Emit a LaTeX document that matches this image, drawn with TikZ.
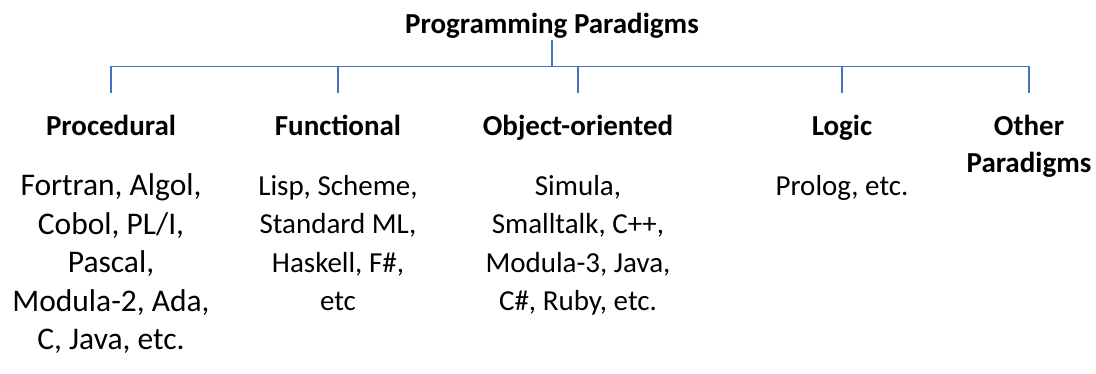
\documentclass[tikz,border=0pt]{standalone}
\usepackage{fontspec}
\setmainfont{Carlito}
\usepackage{tikz}
\usetikzlibrary{positioning}
\definecolor{branchblue}{HTML}{4472C4}
\tikzset{
    rootnode/.style={
        font=\bfseries\fontsize{29}{37}\selectfont,
        inner sep=0pt,
        text depth=6.5pt,
        anchor=base
    },
    paradigm/.style={
        font=\bfseries\fontsize{29}{37}\selectfont,
        align=center,
        inner xsep=0pt,
        inner ysep=20.2pt,
        text height=22pt,
        anchor=base
    },
    langs/.style={
        font=\fontsize{29}{38.5}\selectfont,
        align=center,
        inner sep=0pt,
        anchor=base
    },
    branch/.style={
        draw=branchblue,
        line width=1.2pt
    }
}

\begin{document}
\begin{tikzpicture}[x=1pt, y=-1pt]
    \useasboundingbox (0,0) rectangle (1096,373);

    % Root
    \node (root) [rootnode] at (552,33.5) {Programming Paradigms};
    \coordinate (bus) at (552,66.7);

    % Paradigms (base = last line)
    \node (proc) [paradigm] at (111,135.5) {Procedural};
    \node (func) [paradigm] at (338,135.5) {Functional};
    \node (oop) [paradigm] at (578,135.5) {Object-oriented};
    \node (logic) [paradigm] at (842,135.5) {Logic};
    \node (other) [
        paradigm,
        text height=59pt
    ] at (1029,172.5) {Other\\Paradigms};

    % Languages (base = last line)
    \node (procEx) [
        langs,
        font=\fontsize{31.5}{38.5}\selectfont
    ] at (111,349.5) {Fortran, Algol,\\Cobol, PL/I,\\Pascal,\\Modula-2, Ada,\\C, Java, etc.};
    \node (funcEx) [langs] at (338,310.5) {Lisp, Scheme,\\Standard ML,\\Haskell, F\#,\\etc};
    \node (oopEx) [langs] at (578,310.5) {Simula,\\Smalltalk, C++,\\Modula-3, Java,\\C\#, Ruby, etc.};
    \node (logicEx) [langs] at (842,195) {Prolog, etc.};

    % Lines
    \draw [branch] (root.south) -- (bus);
    \draw [branch] (proc.north) -- (proc.north |- bus) -- (other.north |- bus) -- (other.north);
    \foreach \p in {func, oop, logic}
        \draw [branch] (\p.north) -- (\p.north |- bus);
\end{tikzpicture}
\end{document}
